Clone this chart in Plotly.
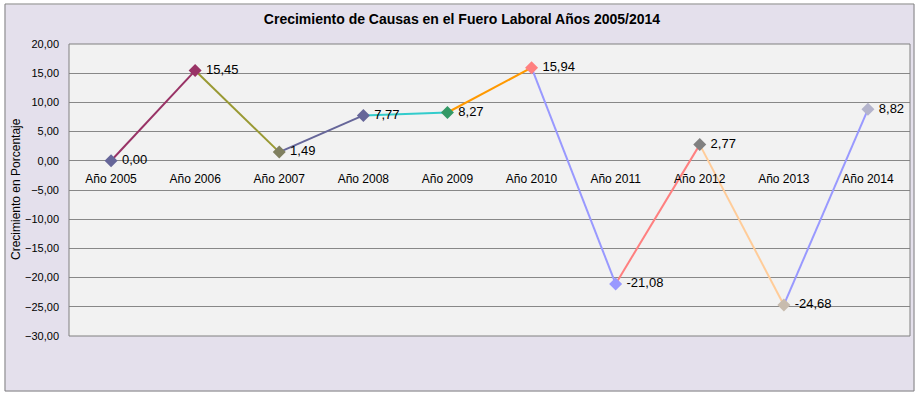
import plotly.graph_objects as go

years = ["Año 2005", "Año 2006", "Año 2007", "Año 2008", "Año 2009",
         "Año 2010", "Año 2011", "Año 2012", "Año 2013", "Año 2014"]
values = [0.00, 15.45, 1.49, 7.77, 8.27, 15.94, -21.08, 2.77, -24.68, 8.82]
segment_colors = ["#993366", "#999933", "#666699", "#33CCCC", "#FF9900",
                  "#9999FF", "#FF8080", "#FFCC99", "#9999FF"]
marker_colors = ["#666699", "#993366", "#808060", "#666699", "#339966",
                 "#FF8080", "#9999FF", "#808080", "#C8BCAE", "#B4B4CC"]
y_ticks = [20, 15, 10, 5, 0, -5, -10, -15, -20, -25, -30]

FONT = "Liberation Sans, Arial, sans-serif"
W, H = 919, 396
L, R, T, B = 69, 9, 44, 60
PW, PH = W - L - R, H - T - B


def px_x(p):
    return (p - L) / PW


def px_y(p):
    return (H - B - p) / PH


fig = go.Figure()
for i, c in enumerate(segment_colors):
    fig.add_trace(go.Scatter(
        x=[years[i], years[i + 1]], y=[values[i], values[i + 1]],
        mode="lines", line=dict(color=c, width=2),
        hoverinfo="skip", showlegend=False))

fig.add_trace(go.Scatter(
    x=years, y=values, mode="markers+text",
    marker=dict(symbol="diamond", size=10, color=marker_colors),
    texttemplate="\u00a0%{y:.2f}", textposition="middle right",
    textfont=dict(family=FONT, size=13, color="#000000"),
    showlegend=False))

fig.update_layout(
    width=W, height=H,
    margin=dict(l=L, r=R, t=T, b=B, autoexpand=False),
    paper_bgcolor="#E4E0EC",
    plot_bgcolor="#F2F2F2",
    separators=",.",
    font=dict(family=FONT, size=11, color="#000000"),
    title=dict(text="<b>Crecimiento de Causas en el Fuero Laboral Años 2005/2014</b>",
               x=px_x(462), xref="paper", xanchor="center",
               y=1 - 19 / H, yref="container", yanchor="middle",
               font=dict(family=FONT, size=14, color="#000000")),
    xaxis=dict(type="category", categoryorder="array", categoryarray=years,
               anchor="free", position=0.6, showgrid=False, zeroline=False,
               showline=False, ticks="", ticklabelstandoff=9,
               tickfont=dict(size=12), range=[-0.5, 9.5], automargin=False),
    yaxis=dict(range=[-30, 20], tickvals=y_ticks, tickformat=".2f",
               showgrid=True, gridcolor="#888888", gridwidth=1,
               zeroline=True, zerolinecolor="#888888", zerolinewidth=1,
               showline=False, ticks="", ticklabelstandoff=9,
               tickfont=dict(size=11), automargin=False),
    annotations=[dict(text="Crecimiento en Porcentaje", textangle=-90,
                      xref="paper", yref="paper", x=px_x(16), y=px_y(189),
                      xanchor="center", yanchor="middle", showarrow=False,
                      font=dict(family=FONT, size=12, color="#000000"))],
    shapes=[
        dict(type="rect", xref="paper", yref="paper",
             x0=px_x(0), x1=px_x(W), y0=px_y(H), y1=px_y(0),
             line=dict(color="#FFFFFF", width=9), layer="above"),
        dict(type="rect", xref="paper", yref="paper",
             x0=px_x(5), x1=px_x(914), y0=px_y(391), y1=px_y(4),
             line=dict(color="#808080", width=1), layer="above"),
        dict(type="rect", xref="paper", yref="paper",
             x0=0, x1=1, y0=0, y1=1,
             line=dict(color="#808080", width=1), layer="above"),
    ],
)

fig.write_html("out.html", config={"displayModeBar": False},
               post_script="document.body.style.margin='0';")
